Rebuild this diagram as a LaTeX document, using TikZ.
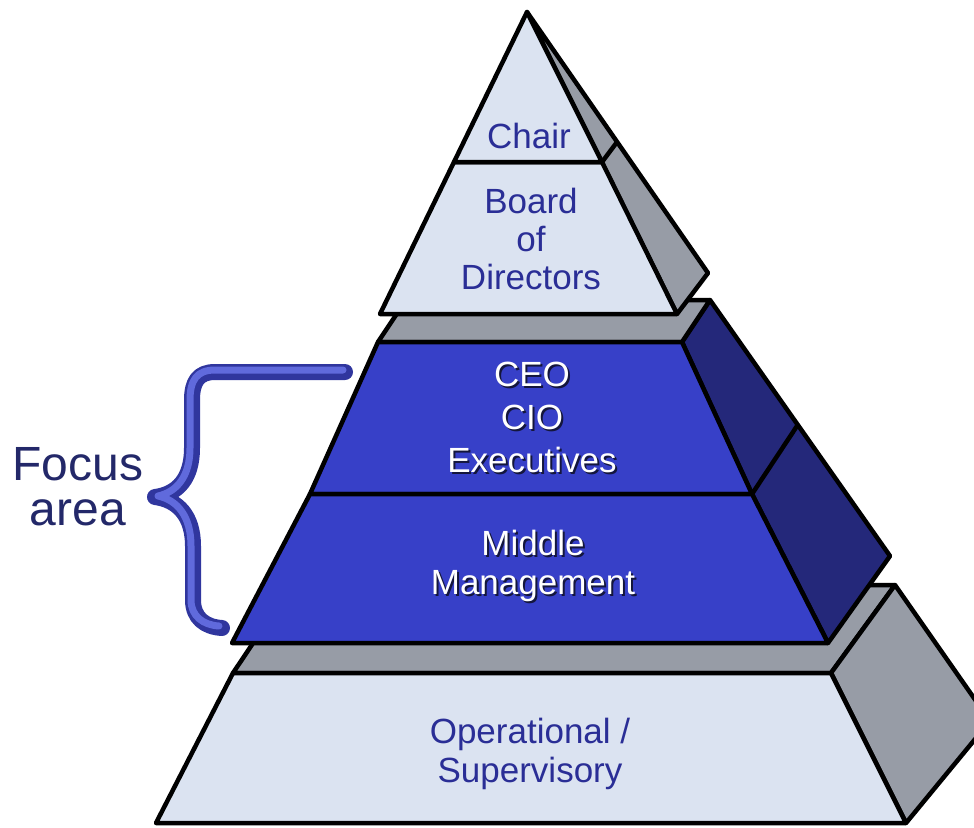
\documentclass[tikz,border=0pt]{standalone}
\usepackage{fontspec}
\setmainfont{Liberation Sans}
\definecolor{lightface}{RGB}{219,227,241}
\definecolor{grayface}{RGB}{151,156,166}
\definecolor{bluefront}{RGB}{55,64,200}
\definecolor{blueside}{RGB}{36,40,122}
\definecolor{textblue}{RGB}{42,46,150}
\definecolor{navy}{RGB}{35,40,105}
\definecolor{bracedark}{RGB}{48,54,158}
\definecolor{bracelight}{RGB}{96,106,220}
\definecolor{shadowcol}{RGB}{20,22,60}
\newcommand\shtext[1]{\leavevmode\rlap{\kern2pt\raisebox{-2pt}{\textcolor{shadowcol}{#1}}}#1}
\begin{document}
\begin{tikzpicture}[x=1pt,y=-1pt,
  face/.style={draw=black,line width=4.5pt,line join=round},
  lbl/.style={align=center,inner sep=0pt,font=\fontsize{35}{39}\selectfont},
  darklbl/.style={lbl,text=textblue},
  whitelbl/.style={lbl,text=white}]
\useasboundingbox (0,0) rectangle (974,827);
\clip (0,0) rectangle (974,827);
% ---- bottom block
\filldraw[face,fill=grayface] (233,673) -- (292,585) -- (895,585) -- (831,673) -- cycle;
\filldraw[face,fill=grayface] (831,673) -- (895,585) -- (990,721) -- (906,823) -- cycle;
\filldraw[face,fill=lightface] (233,673) -- (831,673) -- (906,823) -- (156,823) -- cycle;
% ---- CEO / middle block
\filldraw[face,fill=blueside] (682,342) -- (710,300) -- (890,556) -- (828,643) -- (752,494) -- cycle;
\draw[face] (752,494) -- (797,426);
\filldraw[face,fill=grayface] (378,342) -- (406,300) -- (710,300) -- (682,342) -- cycle;
\filldraw[face,fill=bluefront] (378,342) -- (682,342) -- (752,494) -- (310,494) -- cycle;
\filldraw[face,fill=bluefront] (310,494) -- (752,494) -- (828,643) -- (232,643) -- cycle;
% ---- top block
\filldraw[face,fill=grayface] (527,12) -- (708,273) -- (677,314) -- cycle;
\draw[face] (602,162) -- (617,142);
\filldraw[face,fill=lightface] (454,162) -- (602,162) -- (677,314) -- (380,314) -- cycle;
\filldraw[face,fill=lightface] (527,12) -- (454,162) -- (602,162) -- cycle;
% ---- brace
\draw[bracedark,line width=16pt,line cap=round,line join=round]
  (345,372) -- (215,372) .. controls (198,372) and (192,382) .. (192,400) -- (192,448)
  .. controls (192,478) and (178,494) .. (155,497)
  .. controls (178,500) and (193,516) .. (193,546) -- (193,600)
  .. controls (193,618) and (205,627) .. (222,628);
\draw[bracelight,line width=7pt,line cap=round,line join=round]
  (343,370) -- (215,370) .. controls (197,370) and (190,380) .. (190,400) -- (190,448)
  .. controls (190,476) and (177,492) .. (158,496)
  .. controls (177,500) and (191,516) .. (191,546) -- (191,600)
  .. controls (191,616) and (203,625) .. (219,626);
% ---- labels
\node[darklbl] (chair) at (529,136) {Chair};
\node[darklbl,font=\fontsize{35}{38}\selectfont] (board) at (531,239) {Board\\of\\Directors};
\node[whitelbl,font=\fontsize{35}{43}\selectfont] (exec) at (532,418) {\shtext{CEO}\\\shtext{CIO}\\\shtext{Executives}};
\node[whitelbl] (mid) at (533,567) {\shtext{Middle}\\\shtext{Management}};
\node[darklbl] (oper) at (530,754) {Operational /\\Supervisory};
\node[lbl,text=navy,font=\fontsize{48}{45}\selectfont] (focus) at (78,487) {Focus\\area};
\end{tikzpicture}
\end{document}
